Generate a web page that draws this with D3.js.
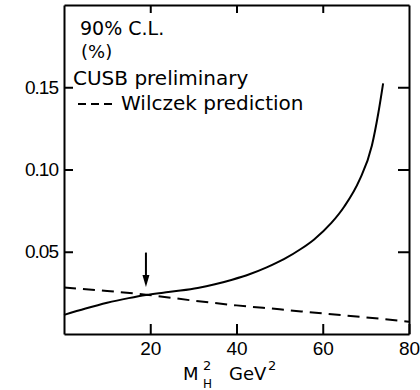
<!DOCTYPE html>
<html>
<head>
<meta charset="utf-8">
<script src="https://cdn.jsdelivr.net/npm/d3@7"></script>
<style>
  body { margin: 0; background: #fff; }
  svg { display: block; }
</style>
</head>
<body>
<div id="chart"></div>
<script>
const w = 420;
const h = 390;

// CUSB preliminary limit (solid)
const cusbMass = [0, 5, 10, 15, 19, 23, 27, 31, 35, 39, 43, 47, 51, 55, 58, 62, 65, 68.5, 71.4, 72.9, 74];
const cusbLimit = [0.0116, 0.0155, 0.019, 0.0218, 0.0237, 0.0251, 0.0264, 0.028, 0.0302, 0.033, 0.0363, 0.0405, 0.0455, 0.0518, 0.0575, 0.0675, 0.0775, 0.0935, 0.1146, 0.1345, 0.1524];

// Wilczek prediction (dashed)
const wilczekMass = [0, 10, 19, 30, 40, 50, 60, 70, 80];
const wilczekValue = [0.0282, 0.0262, 0.0239, 0.0203, 0.0174, 0.015, 0.0125, 0.0101, 0.0075];

const xTicks = [20, 40, 60, 80];
const topTicks = [20, 40, 60];
const yTicks = [0.05, 0.10, 0.15];
const legendLines = ["90% C.L.", "(%)", "CUSB preliminary", "Wilczek prediction"];
const arrowMass = 19;
const arrowFrom = 0.0495;
const arrowTo = 0.0285;

const margin = { top: 5, right: 11, bottom: 56, left: 64 };
const graphWidth = w - margin.left - margin.right;
const graphHeight = h - margin.top - margin.bottom;

const svg = d3.select("#chart")
  .append("svg")
  .attr("width", w)
  .attr("height", h);

const g = svg.append("g")
  .attr("transform", `translate(${margin.left}, ${margin.top})`);

const xScale = d3.scaleLinear().domain([0, 80]).range([0, graphWidth]);
const yScale = d3.scaleLinear().domain([0, 0.2]).range([graphHeight, 0]);

//****AXES****
const bottomAxis = g.append("g")
  .attr("transform", `translate(0, ${graphHeight})`)
  .call(d3.axisBottom(xScale).tickValues(xTicks).tickSize(-10).tickSizeOuter(0).tickPadding(8));

const leftAxis = g.append("g")
  .call(d3.axisLeft(yScale).tickValues(yTicks).tickSize(-9).tickSizeOuter(0).tickPadding(6)
    .tickFormat(d3.format(".2f")));

const topAxis = g.append("g")
  .call(d3.axisTop(xScale).tickValues(topTicks).tickSize(-8).tickSizeOuter(0).tickFormat(""));

const rightAxis = g.append("g")
  .attr("transform", `translate(${graphWidth}, 0)`)
  .call(d3.axisRight(yScale).tickValues(yTicks).tickSize(-11).tickSizeOuter(0).tickFormat(""));

[bottomAxis, leftAxis, topAxis, rightAxis].forEach(function (axis) {
  axis.selectAll("path, line").attr("stroke", "#000").attr("stroke-width", 2);
  axis.selectAll("text")
    .attr("fill", "#000")
    .style("font-family", "'Liberation Sans', Arial, sans-serif")
    .style("font-size", "19px");
});
leftAxis.selectAll("text").style("letter-spacing", "-1px");

//****CURVES****
const cusbData = cusbMass.map((m, i) => ({ m: m, v: cusbLimit[i] }));
const wilczekData = wilczekMass.map((m, i) => ({ m: m, v: wilczekValue[i] }));

const line = d3.line()
  .x(d => xScale(d.m))
  .y(d => yScale(d.v))
  .curve(d3.curveMonotoneX);

g.append("path")
  .datum(cusbData)
  .attr("fill", "none")
  .attr("stroke", "#000")
  .attr("stroke-width", 2)
  .attr("d", line);

g.append("path")
  .datum(wilczekData)
  .attr("fill", "none")
  .attr("stroke", "#000")
  .attr("stroke-width", 2)
  .attr("stroke-dasharray", "12,7")
  .attr("d", line);

// arrow marking the crossing
const arrowX = xScale(arrowMass);
g.append("line")
  .attr("x1", arrowX).attr("x2", arrowX)
  .attr("y1", yScale(arrowFrom)).attr("y2", yScale(arrowTo) - 8)
  .attr("stroke", "#000").attr("stroke-width", 2);
g.append("path")
  .attr("d", `M${arrowX - 3.5},${yScale(arrowTo) - 12} L${arrowX + 3.5},${yScale(arrowTo) - 12} L${arrowX},${yScale(arrowTo)} Z`)
  .attr("fill", "#000");

//****LEGEND TEXT****
const textStyle = (sel, size) => sel
  .attr("fill", "#000")
  .style("font-family", "'DejaVu Sans', sans-serif")
  .style("font-size", size + "px");

svg.append("text").attr("x", 80).attr("y", 35).text(legendLines[0]).call(textStyle, 19);
svg.append("text").attr("x", 81).attr("y", 58).text(legendLines[1]).call(textStyle, 18);
svg.append("text").attr("x", 73).attr("y", 85).text(legendLines[2]).call(textStyle, 20);

svg.append("line")
  .attr("x1", 78).attr("x2", 112)
  .attr("y1", 104).attr("y2", 104)
  .attr("stroke", "#000").attr("stroke-width", 2)
  .attr("stroke-dasharray", "8,5");
svg.append("text").attr("x", 121).attr("y", 110).text(legendLines[3]).call(textStyle, 20);

//****X LABEL****
svg.append("text").attr("x", 183).attr("y", 380).text("M").call(textStyle, 18);
svg.append("text").attr("x", 203).attr("y", 370).text("2").call(textStyle, 13);
svg.append("text").attr("x", 203).attr("y", 388).text("H").call(textStyle, 12);
svg.append("text").attr("x", 229).attr("y", 380).text("GeV").call(textStyle, 18);
svg.append("text").attr("x", 268).attr("y", 370).text("2").call(textStyle, 13);
</script>
</body>
</html>
